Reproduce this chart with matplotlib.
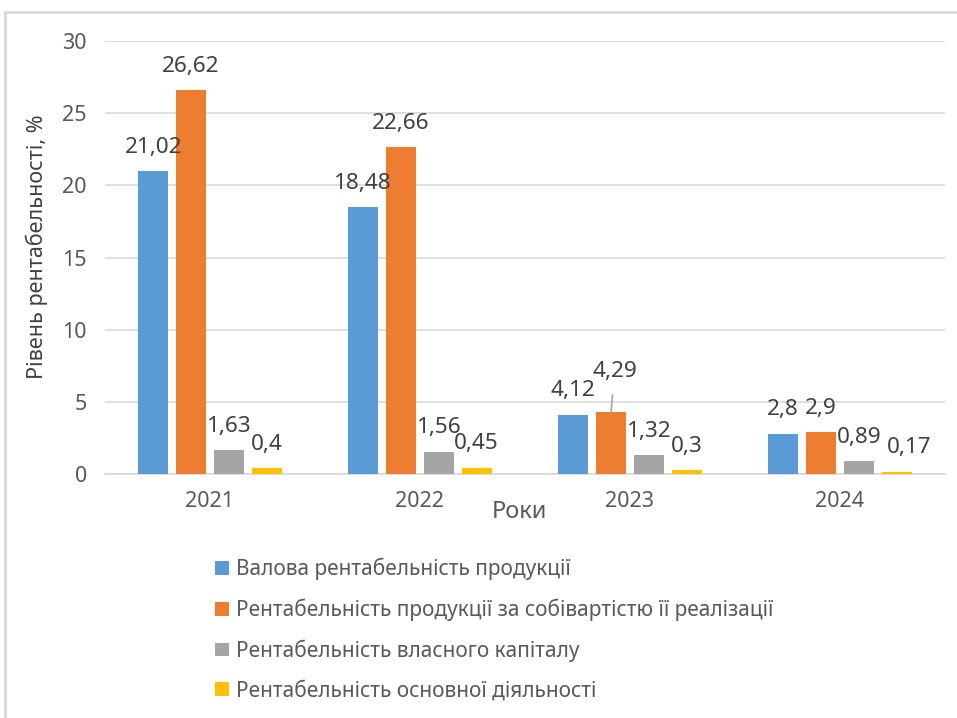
import numpy as np
import matplotlib.pyplot as plt
from matplotlib.patches import Rectangle

plt.rcParams['font.family'] = ['Noto Sans', 'DejaVu Sans']

years = ['2021', '2022', '2023', '2024']
series_names = [
    'Валова рентабельність продукції',
    'Рентабельність продукції за собівартістю її реалізації',
    'Рентабельність власного капіталу',
    'Рентабельність основної діяльності',
]
gross = [21.02, 18.48, 4.12, 2.8]
cost = [26.62, 22.66, 4.29, 2.9]
equity = [1.63, 1.56, 1.32, 0.89]
operating = [0.4, 0.45, 0.3, 0.17]
values = [gross, cost, equity, operating]
colors = ['#5B9BD5', '#ED7D31', '#A5A5A5', '#FFC000']

fig = plt.figure(figsize=(9.57, 7.18), dpi=100)
ax = fig.add_axes([0.1097, 0.3398, 0.8777, 0.6031])

x = np.arange(len(years))
width = 0.143
step = 0.18
bars = []
for i, (vals, col, name) in enumerate(zip(values, colors, series_names)):
    pos = x + (i - 1.5) * step
    b = ax.bar(pos, vals, width, color=col, label=name, zorder=3)
    bars.append(b)
    for j, (px, v) in enumerate(zip(pos, vals)):
        txt = f'{v:g}'.replace('.', ',')
        dx, dy = 0, 17
        arrow = None
        # Excel moved a couple of labels aside to avoid overlaps
        if i == 1 and j == 2:
            dx, dy = 2.5, 29
            arrow = dict(arrowstyle='-', color='#A6A6A6', lw=1.2,
                         shrinkA=7, shrinkB=0)
        if i == 3 and j == 3:
            dx = 9
        ax.annotate(txt, (px, v), xytext=(dx, dy), textcoords='offset points',
                    ha='center', va='center', fontsize=16.2, color='#404040',
                    arrowprops=arrow, zorder=4)

ax.set_xlim(-0.5, 3.5)
ax.set_ylim(0, 30)
ax.set_yticks(range(0, 31, 5))
ax.set_xticks(x)
ax.set_xticklabels(years)
ax.yaxis.grid(True, color='#D9D9D9', lw=1.2, zorder=0)
ax.set_axisbelow(True)
for s in ['top', 'right', 'left']:
    ax.spines[s].set_visible(False)
ax.spines['bottom'].set_color('#D9D9D9')
ax.spines['bottom'].set_linewidth(1.2)
ax.tick_params(axis='both', length=0, labelsize=15.5, labelcolor='#595959')
ax.tick_params(axis='y', pad=13)
ax.tick_params(axis='x', pad=12)

ax.set_ylabel('Рівень рентабельності, %', fontsize=15.5, color='#404040')
ax.yaxis.set_label_coords(-0.081, 0.524)
ax.yaxis.label.set_va('center')
ax.set_xlabel('Роки', fontsize=17, color='#595959')
ax.xaxis.set_label_coords(0.494, -0.088)
ax.xaxis.label.set_va('center')

fig.legend(handles=bars, loc='upper left', bbox_to_anchor=(0.2247, 1 - 558 / 718),
           frameon=False, fontsize=15, labelcolor='#595959', borderpad=0,
           handlelength=0.65, handleheight=0.65, handletextpad=0.35,
           labelspacing=0.88, borderaxespad=0)

fig.patches.append(Rectangle((5 / 957, -0.2), 1.2, 1.2 - 12 / 718, fill=False,
                             edgecolor='#D9D9D9', lw=2, transform=fig.transFigure))

fig.savefig('out.png', dpi=100)
